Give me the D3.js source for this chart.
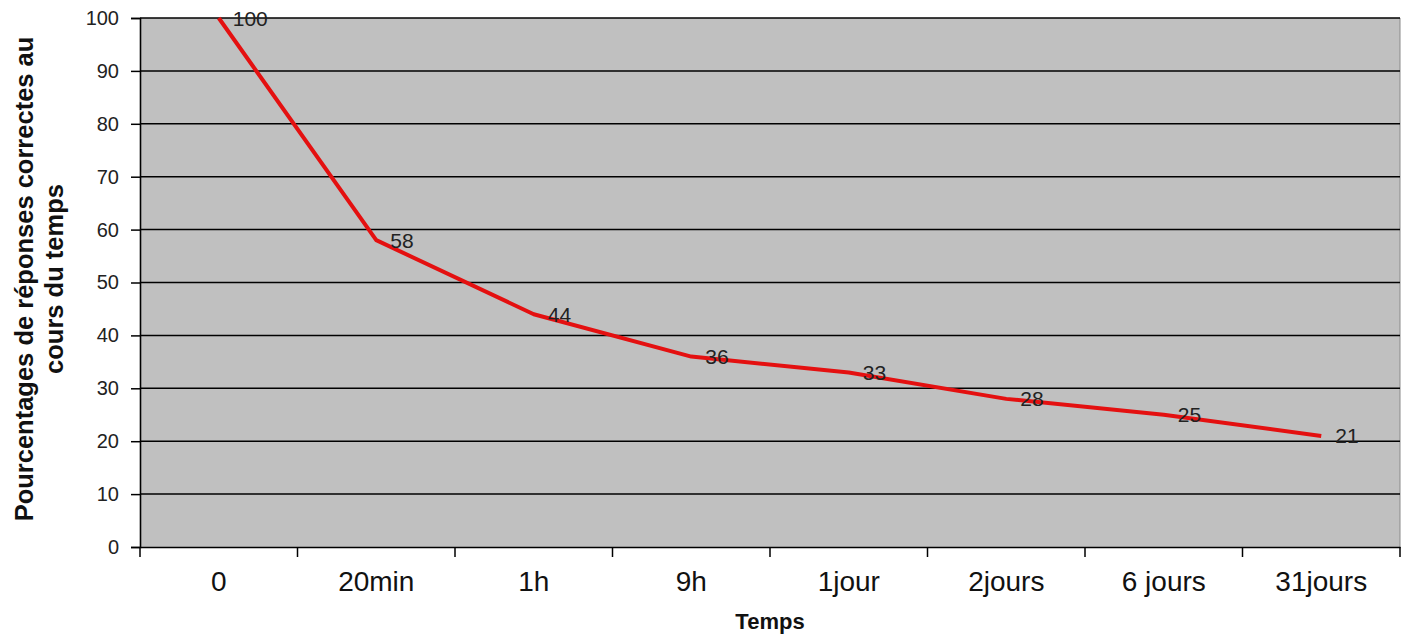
<!DOCTYPE html>
<html><head><meta charset="utf-8">
<script src="https://cdn.jsdelivr.net/npm/d3@7"></script>
<style>body{margin:0;background:#fff}svg{display:block}</style>
</head><body>
<svg id="c" width="1404" height="635"></svg>
<script>
const categories = ["0","20min","1h","9h","1jour","2jours","6 jours","31jours"];
const values = [100,58,44,36,33,28,25,21];
const yTicks = [0,10,20,30,40,50,60,70,80,90,100];
const yTitle = ["Pourcentages de réponses correctes au","cours du temps"];
const xTitle = "Temps";

const FONT = "Arial, 'Liberation Sans', sans-serif";
const svg = d3.select("#c");
const L=140, R=1400, T=18, B=547;
const x = d3.scaleBand().domain(categories).range([L,R]);
const y = d3.scaleLinear().domain([0,100]).range([B,T]);

svg.append("rect").attr("x",L).attr("y",T).attr("width",R-L).attr("height",B-T).attr("fill","#c0c0c0");
svg.append("line").attr("x1",R).attr("x2",R).attr("y1",T).attr("y2",B).attr("stroke","#8a8a8a").attr("stroke-width",1);

// gridlines
svg.append("g").selectAll("line").data(yTicks.filter(d=>d>0)).join("line")
  .attr("x1",L).attr("x2",R).attr("y1",d=>y(d)).attr("y2",d=>y(d))
  .attr("stroke","#000").attr("stroke-width",1.5);

// y axis
const ya = svg.append("g").attr("transform",`translate(${L},0)`)
  .call(d3.axisLeft(y).tickValues(yTicks).tickSize(9).tickPadding(12));
ya.attr("font-size",null).attr("font-family",null);
ya.select(".domain").attr("stroke","#000").attr("stroke-width",1.6);
ya.selectAll(".tick line").attr("stroke","#000").attr("stroke-width",1.5);
ya.selectAll("text").style("font-family",FONT).style("font-size","20px").attr("fill","#222");

// x axis
const xa = svg.append("g").attr("transform",`translate(0,${B})`)
  .call(d3.axisBottom(x).tickSize(0));
xa.attr("font-size",null).attr("font-family",null);
xa.select(".domain").attr("stroke","#000").attr("stroke-width",1.6);
xa.selectAll("text").attr("y",44).attr("dy",0).style("font-family",FONT).style("font-size","28px").attr("fill","#111");
const bounds = categories.map(c=>x(c)).concat([R]);
svg.append("g").selectAll("line").data(bounds).join("line")
  .attr("x1",d=>d).attr("x2",d=>d).attr("y1",B).attr("y2",B+10)
  .attr("stroke","#000").attr("stroke-width",1.5);

// line
const cx = c => x(c)+x.bandwidth()/2;
svg.append("path").datum(categories.map((c,i)=>[cx(c),y(values[i])]))
  .attr("d",d3.line()).attr("fill","none").attr("stroke","#e41010").attr("stroke-width",4).attr("stroke-linejoin","round");

// labels
svg.append("g").selectAll("text").data(categories).join("text")
  .attr("x",c=>cx(c)+14).attr("y",(c,i)=>y(values[i])).attr("dy","0.36em")
  .style("font-family",FONT).style("font-size","21px").attr("fill","#222")
  .text((c,i)=>values[i]);

// titles
svg.append("text").attr("x",770).attr("y",629).attr("text-anchor","middle")
  .style("font-family",FONT).style("font-size","22px").attr("font-weight","bold").attr("fill","#111").text(xTitle);
const yt = svg.append("text").attr("transform","translate(0,279) rotate(-90)")
  .attr("text-anchor","middle").style("font-family",FONT).style("font-size","25.5px").attr("font-weight","bold").attr("fill","#111");
yt.selectAll("tspan").data(yTitle).join("tspan").attr("x",0).attr("y",(d,i)=>33+i*30).text(d=>d);
</script>
</body></html>
